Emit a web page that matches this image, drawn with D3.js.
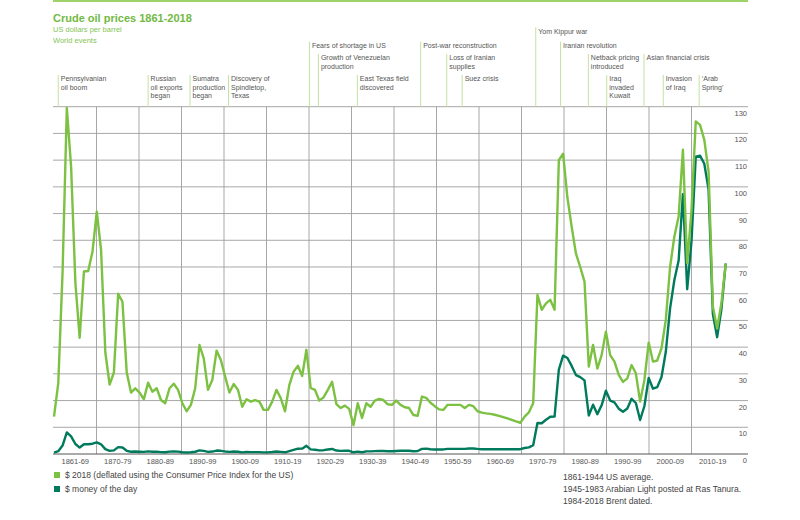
<!DOCTYPE html>
<html>
<head>
<meta charset="utf-8">
<script src="https://cdn.jsdelivr.net/npm/d3@7"></script>
<style>
  body { margin: 0; background: #fff; }
  svg { font-family: "Liberation Sans", Arial, sans-serif; }
</style>
</head>
<body>
<svg id="chart" width="800" height="520"></svg>
<script>
// crude oil prices, one value per year 1861-2018
const firstYear = 1861;

const real2018 = [
  14, 26.5, 68, 129.5, 107.5, 64, 43.5, 68.3, 68.5,                 // 1861-69
  75.8, 90.7, 76.4, 38, 26, 30.5, 60, 57, 30.5, 23,                 // 1870s
  24.6, 23, 20.5, 26.7, 23.3, 24.6, 20.2, 19, 24.6, 26.3,           // 1880s
  24, 19, 16, 18.4, 24.6, 40.8, 35.8, 24, 27.7, 38.7,               // 1890s
  35.2, 29, 23, 26.2, 24, 17.7, 20.5, 19.6, 20.2, 19.6,             // 1900s
  16.5, 16.5, 19.6, 24, 20.9, 16, 25.8, 30.8, 33, 29.2,             // 1910s
  39, 24.7, 24, 20, 21.2, 24, 27, 18.7, 17.2, 18.1,                 // 1920s
  16.9, 10.8, 19, 13.5, 19, 17.7, 20, 20.6, 20.2, 18.6,             // 1930s
  18.4, 20, 18.4, 17.5, 17.2, 14.6, 14.3, 21.5, 21, 19.2,           // 1940s
  17.9, 16.7, 16.5, 18.4, 18.4, 18.4, 18.4, 17.2, 18.4, 17.9,       // 1950s
  16, 15.5, 15.2, 15, 14.7, 14.3, 13.8, 13.3, 12.8, 12.2,           // 1960s
  11.7, 14, 15.6, 19, 59.6, 54, 56.4, 57.7, 54, 110,                // 1970s
  112.4, 96, 85, 75, 70, 64.5, 32.7, 40.8, 32, 37,                  // 1980s
  45.8, 37, 34.6, 29.6, 27, 28.3, 33.3, 30.2, 19.6, 27.7,           // 1990s
  41.7, 34.6, 35, 39.6, 50.2, 70, 81.4, 88.9, 113.9, 71.4,          // 2000s
  91, 124.5, 123.2, 117.6, 105.7, 55.2, 47, 56.5, 71.3              // 2010-18
];

const moneyOfDay = [
  0.49, 1.05, 3.15, 8.06, 6.59, 3.74, 2.41, 3.63, 3.64,
  3.86, 4.34, 3.64, 1.83, 1.17, 1.35, 2.56, 2.42, 1.19, 0.86,
  0.95, 0.86, 0.78, 1.00, 0.84, 0.88, 0.71, 0.67, 0.88, 0.94,
  0.87, 0.67, 0.56, 0.64, 0.84, 1.36, 1.18, 0.79, 0.91, 1.29,
  1.19, 0.96, 0.80, 0.94, 0.86, 0.62, 0.73, 0.72, 0.72, 0.70,
  0.61, 0.61, 0.74, 0.95, 0.81, 0.64, 1.10, 1.56, 1.98, 2.01,
  3.07, 1.73, 1.61, 1.34, 1.43, 1.68, 1.88, 1.30, 1.17, 1.27,
  1.19, 0.65, 0.87, 0.67, 1.00, 0.97, 1.09, 1.18, 1.13, 1.02,
  1.02, 1.14, 1.19, 1.20, 1.21, 1.05, 1.12, 1.90, 1.99, 1.78,
  1.71, 1.71, 1.71, 1.93, 1.93, 1.93, 1.93, 1.90, 2.08, 2.08,
  1.90, 1.80, 1.80, 1.80, 1.80, 1.80, 1.80, 1.80, 1.80, 1.80,
  1.80, 2.24, 2.48, 3.29, 11.58, 11.53, 12.80, 13.92, 14.02, 31.61,
  36.83, 35.93, 32.97, 29.55, 28.78, 27.56, 14.43, 18.44, 14.92, 18.23,
  23.73, 20.00, 19.32, 16.97, 15.82, 17.02, 20.67, 19.09, 12.72, 17.97,
  28.50, 24.44, 25.02, 28.83, 38.27, 54.52, 65.14, 72.39, 97.26, 61.67,
  79.50, 111.26, 111.67, 108.66, 98.95, 52.39, 43.73, 54.19, 71.31
];

const decadeLabels = ["1861-69", "1870-79", "1880-89", "1890-99", "1900-09", "1910-19",
  "1920-29", "1930-39", "1940-49", "1950-59", "1960-69", "1970-79", "1980-89",
  "1990-99", "2000-09", "2010-19"];

const yTicks = [0, 10, 20, 30, 40, 50, 60, 70, 80, 90, 100, 110, 120, 130];

const eventLabels = [
  ["Pennsylvanian", "oil boom"], ["Russian", "oil exports", "began"],
  ["Sumatra", "production", "began"], ["Discovery of", "Spindletop,", "Texas"],
  ["Fears of shortage in US"], ["Growth of Venezuelan", "production"],
  ["East Texas field", "discovered"], ["Post-war reconstruction"],
  ["Loss of Iranian", "supplies"], ["Suez crisis"], ["Yom Kippur war"],
  ["Iranian revolution"], ["Netback pricing", "introduced"],
  ["Iraq", "invaded", "Kuwait"], ["Asian financial crisis"],
  ["Invasion", "of Iraq"], ["\u2018Arab", "Spring\u2019"]
];
const eventYears = [1862, 1883, 1892.8, 1901.8, 1920.7, 1922.8, 1931.9, 1946.7,
  1952.8, 1956.4, 1973.6, 1979.4, 1985.9, 1990.2, 1998.9, 2003.4, 2011.8];
const eventRows = [3, 3, 3, 3, 1, 2, 3, 1, 2, 3, 0, 1, 2, 3, 2, 3, 3];

const seriesNames = ["$ 2018 (deflated using the Consumer Price Index for the US)", "$ money of the day"];
const footnotes = ["1861-1944 US average.", "1945-1983 Arabian Light posted at Ras Tanura.", "1984-2018 Brent dated."];

// layout
const lightGreen = "#7cc142";
const darkGreen = "#007a5c";
const eventGreen = "#c3e2a2";
const gridGray = "#9d9d9d";
const textGray = "#555";
const plotLeft = 53, plotRight = 748, plotTop = 106.7, plotBottom = 454;
const rowTops = [27.3, 41.7, 54, 75];

const svg = d3.select("#chart");

const x = d3.scaleLinear().domain([firstYear, 2018]).range([54, 725.7]);
const y = d3.scaleLinear().domain([0, 130]).range([plotBottom, plotTop]);
const decade = d3.scaleBand().domain(decadeLabels).range([54, 734]);

// top rule + titles
svg.append("rect").attr("x", plotLeft).attr("y", 0).attr("width", plotRight - plotLeft).attr("height", 2)
  .attr("fill", "#9ed36a");
svg.append("text").attr("x", plotLeft).attr("y", 21.5).attr("font-size", 11).attr("font-weight", "bold")
  .attr("fill", "#72b944").text("Crude oil prices 1861-2018");
svg.append("text").attr("x", plotLeft).attr("y", 32.3).attr("font-size", 7.5)
  .attr("fill", "#86c556").text("US dollars per barrel");
svg.append("text").attr("x", plotLeft).attr("y", 42.7).attr("font-size", 7.5)
  .attr("fill", "#86c556").text("World events");

// horizontal gridlines
svg.append("g").selectAll("line")
  .data(yTicks.filter(d => d > 0))
  .join("line")
  .attr("x1", plotLeft).attr("x2", plotRight)
  .attr("y1", d => y(d)).attr("y2", d => y(d))
  .attr("stroke", gridGray).attr("stroke-width", 0.9);

// vertical decade separators
svg.append("g").selectAll("line")
  .data(decadeLabels.slice(0, -1))
  .join("line")
  .attr("x1", d => decade(d) + decade.bandwidth()).attr("x2", d => decade(d) + decade.bandwidth())
  .attr("y1", plotTop).attr("y2", plotBottom)
  .attr("stroke", gridGray).attr("stroke-width", 0.9);

// baseline
svg.append("line").attr("x1", plotLeft).attr("x2", plotRight).attr("y1", plotBottom).attr("y2", plotBottom)
  .attr("stroke", "#555").attr("stroke-width", 1);

// y labels, sitting just under each gridline on the right
svg.append("g").selectAll("text")
  .data(yTicks)
  .join("text")
  .attr("x", plotRight - 1).attr("y", d => y(d) + 9)
  .attr("text-anchor", "end").attr("font-size", 7.5).attr("fill", textGray)
  .text(d => d);

// decade labels
svg.append("g").selectAll("text")
  .data(decadeLabels)
  .join("text")
  .attr("x", d => decade(d) + decade.bandwidth() / 2).attr("y", 464)
  .attr("text-anchor", "middle").attr("font-size", 7.5).attr("fill", textGray)
  .text(d => d);

// world events
const ev = svg.append("g").selectAll("g")
  .data(eventLabels.map((lines, i) => ({ lines, year: eventYears[i], row: eventRows[i] })))
  .join("g");
ev.append("line")
  .attr("x1", d => x(d.year)).attr("x2", d => x(d.year))
  .attr("y1", d => rowTops[d.row]).attr("y2", plotTop)
  .attr("stroke", eventGreen).attr("stroke-width", 1);
ev.append("text")
  .attr("font-size", 7).attr("fill", textGray)
  .selectAll("tspan")
  .data(d => d.lines.map((t, j) => ({ t, j, d })))
  .join("tspan")
  .attr("x", e => x(e.d.year) + 2.5)
  .attr("y", e => rowTops[e.d.row] + 6.2 + e.j * 8.4)
  .text(e => e.t);

// price lines - money of the day underneath, real terms on top
const line = d3.line()
  .x((d, i) => x(firstYear + i))
  .y(d => y(d));

svg.append("path").datum(moneyOfDay)
  .attr("d", line).attr("fill", "none")
  .attr("stroke", darkGreen).attr("stroke-width", 2.4).attr("stroke-linejoin", "round");
svg.append("path").datum(real2018)
  .attr("d", line).attr("fill", "none")
  .attr("stroke", lightGreen).attr("stroke-width", 2.4).attr("stroke-linejoin", "round");

// legend
const legend = svg.append("g").selectAll("g")
  .data(seriesNames)
  .join("g")
  .attr("transform", (d, i) => `translate(54,${472 + i * 14})`);
legend.append("rect").attr("width", 6).attr("height", 6)
  .attr("fill", (d, i) => i === 0 ? lightGreen : darkGreen);
legend.append("text").attr("x", 11).attr("y", 6.2).attr("font-size", 8.5).attr("fill", "#444")
  .text(d => d);

// source notes
svg.append("g").selectAll("text")
  .data(footnotes)
  .join("text")
  .attr("x", 563).attr("y", (d, i) => 479.5 + i * 12.3)
  .attr("font-size", 8.5).attr("fill", "#444")
  .text(d => d);
</script>
</body>
</html>
